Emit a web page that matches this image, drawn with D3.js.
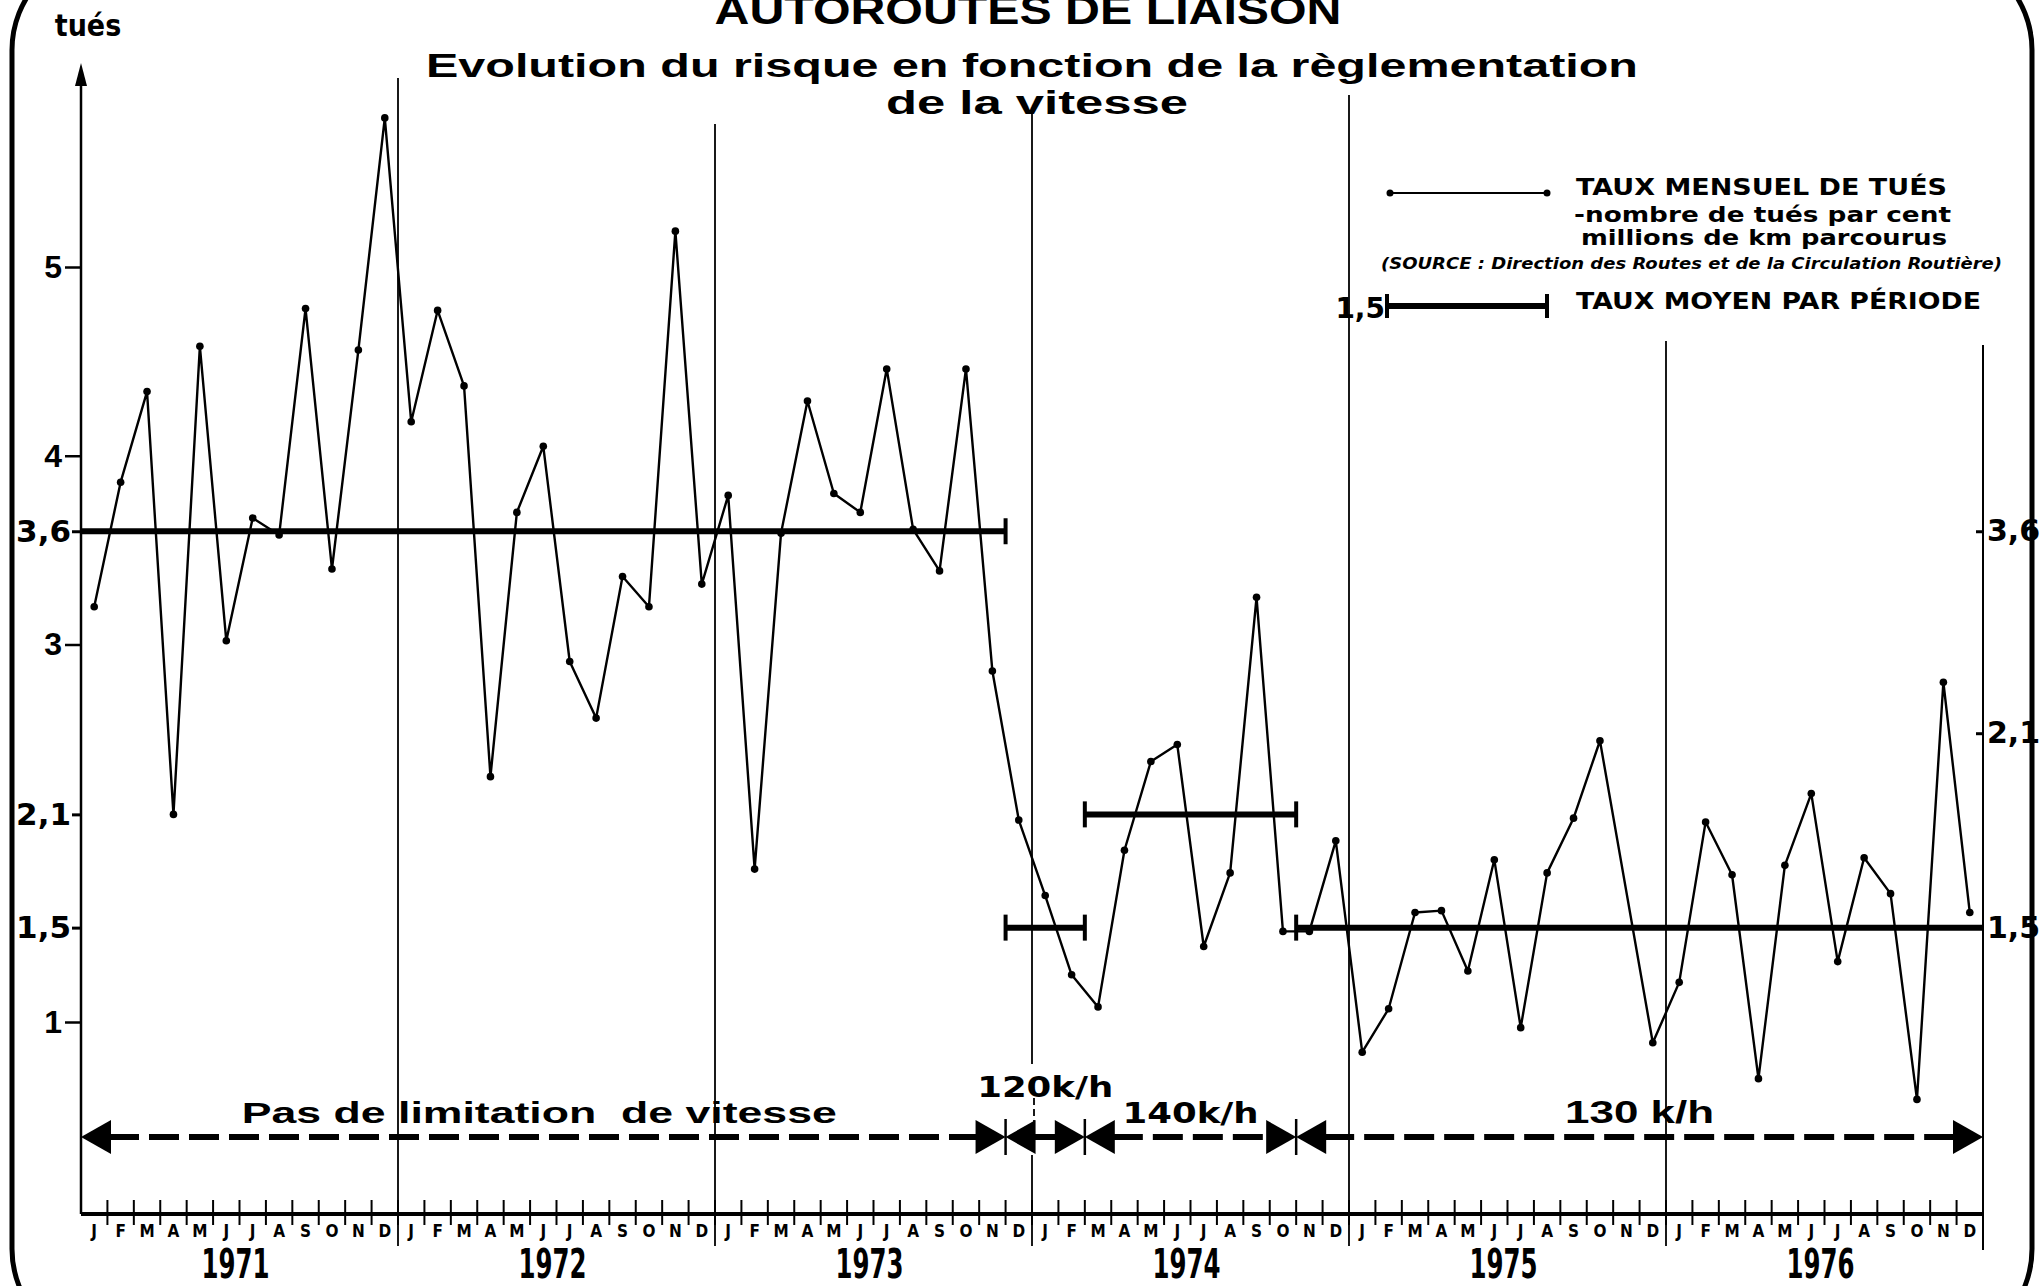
<!DOCTYPE html>
<html>
<head>
<meta charset="utf-8">
<script src="https://cdn.jsdelivr.net/npm/d3@7"></script>
<style>
  body { margin: 0; background: #fff; }
  svg { display: block; }
  text { fill: #000; }
</style>
</head>
<body>
<svg id="chart" width="2042" height="1286"></svg>
<script>
// monthly death rate (tués per 100 million km)
const years = ["1971", "1972", "1973", "1974", "1975", "1976"];
const monthLetters = ["J", "F", "M", "A", "M", "J", "J", "A", "S", "O", "N", "D"];

const rate1971 = [3.20, 3.86, 4.34, 2.10, 4.58, 3.02, 3.67, 3.58, 4.78, 3.40, 4.56, 5.79];
const rate1972 = [4.18, 4.77, 4.37, 2.30, 3.70, 4.05, 2.91, 2.61, 3.36, 3.20, 5.19, 3.32];
const rate1973 = [3.79, 1.81, 3.59, 4.29, 3.80, 3.70, 4.46, 3.61, 3.39, 4.46, 2.86, 2.07];
const rate1974 = [1.67, 1.25, 1.08, 1.91, 2.38, 2.47, 1.40, 1.79, 3.25, 1.48, 1.48, 1.96];
const rate1975 = [0.84, 1.07, 1.58, 1.59, 1.27, 1.86, 0.97, 1.79, 2.08, 2.49, null, 0.89];
const rate1976 = [1.21, 2.06, 1.78, 0.70, 1.83, 2.21, 1.32, 1.87, 1.68, 0.59, 2.80, 1.58];

// speed regulation periods (month index from Jan 1971)
const periodStart = [0, 35, 38, 46];
const periodEnd = [34, 37, 45, 71];
const periodMean = [3.6, 1.5, 2.1, 1.5];
const periodLabel = ["Pas de limitation  de vitesse", "120k/h", "140k/h", "130 k/h"];

const leftTicks = [5, 4, 3, 1];
const meanTicks = [3.6, 2.1, 1.5];
const rightTickValues = [3.6, 2.53, 1.5];
const rightTickLabels = ["3,6", "2,1", "1,5"];

const rates = [].concat(rate1971, rate1972, rate1973, rate1974, rate1975, rate1976)
  .map((v, i) => ({ i, v }));

const narrow = "'Liberation Sans Narrow', 'DejaVu Sans Condensed', 'Liberation Sans', Arial, sans-serif";
const helv = "'Liberation Sans', Arial, sans-serif";
const heavy = "'DejaVu Sans', Verdana, sans-serif";

const svg = d3.select("#chart");

const x = d3.scaleLinear().domain([-0.5, 71.5]).range([81, 1983]);
const y = d3.scaleLinear().domain([1, 5]).range([1022, 267]);
const axisY = 1214;

// rounded frame
svg.append("rect")
  .attr("x", 12).attr("y", -50).attr("width", 2020).attr("height", 1399)
  .attr("rx", 100).attr("fill", "none").attr("stroke", "#000").attr("stroke-width", 5);

// titles
svg.append("text").attr("x", 1028).attr("y", 24).attr("text-anchor", "middle")
  .attr("font-family", helv).attr("font-weight", "bold").attr("font-size", 40)
  .attr("textLength", 627).attr("lengthAdjust", "spacingAndGlyphs")
  .text("AUTOROUTES DE LIAISON");
svg.append("text").attr("x", 1032).attr("y", 77).attr("text-anchor", "middle")
  .attr("font-family", helv).attr("font-weight", "bold").attr("font-size", 34)
  .attr("textLength", 1212).attr("lengthAdjust", "spacingAndGlyphs")
  .text("Evolution du risque en fonction de la règlementation");
svg.append("text").attr("x", 1037).attr("y", 114).attr("text-anchor", "middle")
  .attr("font-family", helv).attr("font-weight", "bold").attr("font-size", 34)
  .attr("textLength", 302).attr("lengthAdjust", "spacingAndGlyphs")
  .text("de la vitesse");

// "tués" + left axis with arrow
svg.append("text").attr("x", 88).attr("y", 36).attr("text-anchor", "middle")
  .attr("font-family", narrow).attr("font-weight", "bold").attr("font-size", 30)
  .text("tués");
svg.append("line").attr("x1", x(-0.5)).attr("x2", x(-0.5)).attr("y1", 78).attr("y2", axisY)
  .attr("stroke", "#000").attr("stroke-width", 2.5);
svg.append("path")
  .attr("d", `M${x(-0.5)},63 L${x(-0.5) - 6},86 L${x(-0.5) + 6},86 Z`)
  .attr("fill", "#000");

// year separators
const yearTop = [78, 124, 111, 95, 341];
for (let k = 1; k <= 5; k++) {
  const xx = x(12 * k - 0.5);
  const g = svg.append("g").attr("stroke", "#000").attr("stroke-width", 1.8);
  if (k === 3) {
    g.append("line").attr("x1", xx).attr("x2", xx).attr("y1", yearTop[k - 1]).attr("y2", 1064);
    g.append("line").attr("x1", xx + 2).attr("x2", xx + 2).attr("y1", 1098).attr("y2", 1134)
      .attr("stroke-dasharray", "7 4");
    g.append("line").attr("x1", xx).attr("x2", xx).attr("y1", 1155).attr("y2", 1246);
  } else {
    g.append("line").attr("x1", xx).attr("x2", xx).attr("y1", yearTop[k - 1]).attr("y2", 1246);
  }
}
// right axis
svg.append("line").attr("x1", x(71.5)).attr("x2", x(71.5)).attr("y1", 345).attr("y2", 1250)
  .attr("stroke", "#000").attr("stroke-width", 2);

// bottom axis
svg.append("line").attr("x1", x(-0.5)).attr("x2", x(71.5)).attr("y1", axisY).attr("y2", axisY)
  .attr("stroke", "#000").attr("stroke-width", 4);
svg.append("g").selectAll("line").data(d3.range(0, 71)).join("line")
  .attr("x1", d => x(d + 0.5)).attr("x2", d => x(d + 0.5))
  .attr("y1", axisY - 14).attr("y2", axisY + 11)
  .attr("stroke", "#000").attr("stroke-width", 2);
svg.append("g").selectAll("text").data(d3.range(0, 72)).join("text")
  .attr("x", d => x(d)).attr("y", 1237).attr("text-anchor", "middle")
  .attr("font-family", narrow).attr("font-weight", "bold").attr("font-size", 17)
  .text(d => monthLetters[d % 12]);
svg.append("g").selectAll("text").data(years).join("text")
  .attr("x", (d, k) => x(12 * k + 5.5) - 4).attr("y", 1278).attr("text-anchor", "middle")
  .attr("font-family", narrow).attr("font-weight", "bold").attr("font-size", 40)
  .attr("textLength", 68).attr("lengthAdjust", "spacingAndGlyphs")
  .text(d => d);

// left axis ticks
const gl = svg.append("g").attr("transform", `translate(${x(-0.5)},0)`)
  .call(d3.axisLeft(y).tickValues(leftTicks).tickSize(16).tickPadding(3).tickFormat(d3.format("d")));
gl.select(".domain").remove();
gl.selectAll("line").attr("stroke-width", 2.5);
gl.selectAll("text").attr("font-family", helv).attr("font-weight", "bold").attr("font-size", 32);

const gm = svg.append("g").attr("transform", `translate(${x(-0.5)},0)`)
  .call(d3.axisLeft(y).tickValues(meanTicks).tickSize(9).tickPadding(1)
    .tickFormat(d => d.toFixed(1).replace(".", ",")));
gm.select(".domain").remove();
gm.selectAll("line").attr("stroke-width", 3);
gm.selectAll("text").attr("font-family", heavy).attr("font-weight", "bold").attr("font-size", 31);

const gr = svg.append("g").attr("transform", `translate(${x(71.5)},0)`)
  .call(d3.axisRight(y).tickValues(rightTickValues).tickSizeInner(-7).tickSizeOuter(0).tickPadding(4)
    .tickFormat((d, i) => rightTickLabels[i]));
gr.select(".domain").remove();
gr.selectAll("line").attr("stroke-width", 3);
gr.selectAll("text").attr("font-family", heavy).attr("font-weight", "bold").attr("font-size", 30);

// mean rate per period
const gp = svg.append("g").attr("stroke", "#000");
periodMean.forEach((m, p) => {
  const x0 = x(periodStart[p] - 0.5), x1 = x(periodEnd[p] + 0.5), yy = y(m);
  gp.append("line").attr("x1", x0).attr("x2", x1).attr("y1", yy).attr("y2", yy)
    .attr("stroke-width", 6);
  if (periodStart[p] > 0)
    gp.append("line").attr("x1", x0).attr("x2", x0).attr("y1", yy - 13).attr("y2", yy + 13)
      .attr("stroke-width", 4);
  if (periodEnd[p] < 71)
    gp.append("line").attr("x1", x1).attr("x2", x1).attr("y1", yy - 13).attr("y2", yy + 13)
      .attr("stroke-width", 4);
});

// monthly line
const pts = rates.filter(d => d.v !== null);
svg.append("path").datum(pts)
  .attr("d", d3.line().x(d => x(d.i)).y(d => y(d.v)))
  .attr("fill", "none").attr("stroke", "#000").attr("stroke-width", 2.4)
  .attr("stroke-linejoin", "round");
svg.append("g").selectAll("circle").data(pts).join("circle")
  .attr("cx", d => x(d.i)).attr("cy", d => y(d.v)).attr("r", 3.8).attr("fill", "#000");

// speed regulation arrows
const arrowY = 1137;
const ga = svg.append("g");
periodLabel.forEach((lab, p) => {
  const x0 = x(periodStart[p] - 0.5), x1 = x(periodEnd[p] + 0.5);
  ga.append("line").attr("x1", x0 + 28).attr("x2", x1 - 28).attr("y1", arrowY).attr("y2", arrowY)
    .attr("stroke", "#000").attr("stroke-width", 6).attr("stroke-dasharray", "30 10");
  ga.append("path").attr("d", `M${x0},${arrowY} L${x0 + 30},${arrowY - 17} L${x0 + 30},${arrowY + 17} Z`);
  ga.append("path").attr("d", `M${x1},${arrowY} L${x1 - 30},${arrowY - 17} L${x1 - 30},${arrowY + 17} Z`);
  if (periodStart[p] > 0)
    ga.append("line").attr("x1", x0).attr("x2", x0).attr("y1", arrowY - 18).attr("y2", arrowY + 18)
      .attr("stroke", "#000").attr("stroke-width", 2.5);
  const narrowSeg = (x1 - x0) < 120;
  const t = ga.append("text")
    .attr("x", (x0 + x1) / 2 + (p === 0 ? -4 : 0))
    .attr("y", narrowSeg ? arrowY - 40 : arrowY - 14)
    .attr("text-anchor", "middle").attr("font-weight", "bold")
    .style("white-space", "pre")
    .text(lab);
  if (p === 0) t.attr("font-family", helv).attr("font-size", 29).attr("textLength", 595).attr("lengthAdjust", "spacingAndGlyphs");
  else if (p === 3) t.attr("font-family", helv).attr("font-size", 31).attr("textLength", 149).attr("lengthAdjust", "spacingAndGlyphs");
  else t.attr("font-family", heavy).attr("font-size", 29).attr("textLength", 136).attr("lengthAdjust", "spacingAndGlyphs");
});

// legend
const lg = svg.append("g");
lg.append("line").attr("x1", 1390).attr("x2", 1547).attr("y1", 193).attr("y2", 193)
  .attr("stroke", "#000").attr("stroke-width", 2);
lg.selectAll("circle").data([1390, 1547]).join("circle")
  .attr("cx", d => d).attr("cy", 193).attr("r", 3.5).attr("fill", "#000");
lg.append("text").attr("x", 1576).attr("y", 195)
  .attr("font-family", heavy).attr("font-weight", "bold").attr("font-size", 23)
  .attr("textLength", 371).attr("lengthAdjust", "spacingAndGlyphs")
  .text("TAUX  MENSUEL  DE  TUÉS");
lg.append("text").attr("x", 1574).attr("y", 222)
  .attr("font-family", heavy).attr("font-weight", "bold").attr("font-size", 22)
  .attr("textLength", 377).attr("lengthAdjust", "spacingAndGlyphs")
  .text("-nombre de tués par cent");
lg.append("text").attr("x", 1581).attr("y", 245)
  .attr("font-family", heavy).attr("font-weight", "bold").attr("font-size", 22)
  .attr("textLength", 366).attr("lengthAdjust", "spacingAndGlyphs")
  .text("millions de km parcourus");
lg.append("text").attr("x", 1381).attr("y", 269)
  .attr("font-family", narrow).attr("font-weight", "bold").attr("font-style", "italic").attr("font-size", 16)
  .attr("textLength", 621).attr("lengthAdjust", "spacingAndGlyphs")
  .text("(SOURCE : Direction des Routes et de la Circulation Routière)");
lg.append("text").attr("x", 1385).attr("y", 318).attr("text-anchor", "end")
  .attr("font-family", heavy).attr("font-weight", "bold").attr("font-size", 28)
  .text("1,5");
lg.append("line").attr("x1", 1387).attr("x2", 1547).attr("y1", 306).attr("y2", 306)
  .attr("stroke", "#000").attr("stroke-width", 6);
lg.selectAll(".tk").data([1387, 1547]).join("line").attr("class", "tk")
  .attr("x1", d => d).attr("x2", d => d).attr("y1", 294).attr("y2", 318)
  .attr("stroke", "#000").attr("stroke-width", 4);
lg.append("text").attr("x", 1576).attr("y", 309)
  .attr("font-family", heavy).attr("font-weight", "bold").attr("font-size", 23)
  .attr("textLength", 405).attr("lengthAdjust", "spacingAndGlyphs")
  .text("TAUX  MOYEN  PAR  PÉRIODE");
</script>
</body>
</html>
